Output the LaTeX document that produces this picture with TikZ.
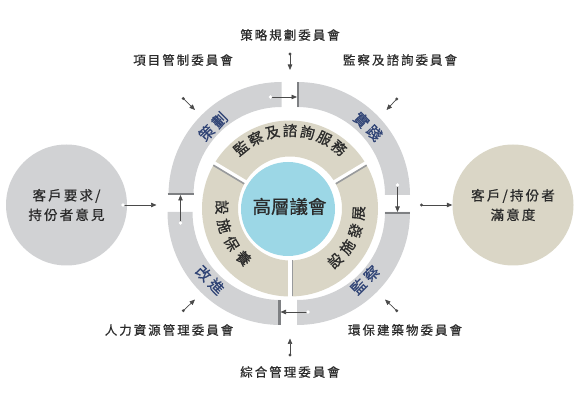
\documentclass[tikz,border=0pt]{standalone}
\usepackage{fontspec}
\newfontfamily\cjk[FakeBold=0.8]{Noto Sans CJK TC}
\newfontfamily\cjkwide[LetterSpace=16, FakeBold=0.6]{Noto Sans CJK TC}
\newfontfamily\cjkring[LetterSpace=22, FakeBold=0.6]{Noto Sans CJK TC}
\usetikzlibrary{arrows.meta}
\definecolor{RingGray}{HTML}{D1D2D4}
\definecolor{EdgeGray}{HTML}{7E8083}
\definecolor{Sand}{HTML}{DAD6C6}
\definecolor{SkyBlue}{HTML}{9CD7E6}
\definecolor{Navy}{HTML}{2E4274}
\definecolor{InkGray}{HTML}{2A2A2A}
\definecolor{ArrowGray}{HTML}{4A4A4A}

\begin{document}
\begin{tikzpicture}[x=1pt, y=1pt,
    committee/.style={font=\cjkwide\fontsize{12.5}{15}\selectfont, text=InkGray},
    phase/.style={font=\cjkring\fontsize{15}{18}\selectfont, text=Navy, inner sep=0pt},
    service/.style={font=\cjk\fontsize{14.5}{17}\selectfont, text=InkGray, inner sep=0pt},
    party/.style={circle, minimum size=121, inner sep=0pt, align=center,
        font=\cjkwide\fontsize{13.5}{19.5}\selectfont, text=InkGray},
    feed/.style={ArrowGray, line width=0.7pt, -{Triangle[length=5.5pt, width=4.5pt]}},
    edge/.style={EdgeGray, line width=2.2pt},
    divider/.style={EdgeGray!80, line width=1.6pt}]
    \useasboundingbox (0,0) rectangle (581,409);

    % Outer ring: four quarter pieces, pulled apart
    \fill[RingGray] (281.5,327) arc[start angle=90, end angle=180, radius=113]
        -- (193.5,214) arc[start angle=180, end angle=90, radius=88] -- cycle;
    \fill[RingGray] (410,214) arc[start angle=0, end angle=90, radius=113]
        -- (297,302) arc[start angle=90, end angle=0, radius=88] -- cycle;
    \fill[RingGray] (297,84) arc[start angle=270, end angle=360, radius=113]
        -- (385,197) arc[start angle=360, end angle=270, radius=88] -- cycle;
    \fill[RingGray] (167.5,197) arc[start angle=180, end angle=270, radius=113]
        -- (280.5,109) arc[start angle=270, end angle=180, radius=88] -- cycle;

    % Dark edge where each flow arrow lands
    \draw[edge] (298.1,302) -- (298.1,327);
    \draw[edge] (385,195.9) -- (410,195.9);
    \draw[edge] (279.4,84) -- (279.4,109);
    \draw[edge] (167.5,215.1) -- (193.5,215.1);

    % Flow round the ring
    \coordinate (plan-out) at (270.5,312);
    \coordinate (act-in) at (297,312);
    \coordinate (act-out) at (397.5,224);
    \coordinate (check-in) at (397.5,197);
    \coordinate (check-out) at (308,97);
    \coordinate (improve-in) at (280.5,97);
    \coordinate (improve-out) at (180.5,186);
    \coordinate (plan-in) at (180.5,214);
    \draw[feed] (plan-out) -- (act-in);
    \draw[feed] (act-out) -- (check-in);
    \draw[feed] (check-out) -- (improve-in);
    \draw[feed] (improve-out) -- (plan-in);
    \fill[white] (plan-out) circle (1.8) (act-out) circle (1.8)
        (check-out) circle (1.8) (improve-out) circle (1.8);

    % Ring labels
    \node[phase, rotate=45] (plan) at (213,282.5) {策劃};
    \node[phase, rotate=-45] (act) at (368,282.5) {實踐};
    \node[phase, rotate=45] (check) at (365,129) {監察};
    \node[phase, rotate=-45] (improve) at (210,129) {改進};

    % Middle ring of services
    \begin{scope}[shift={(290,200.5)}]
        \fill[Sand, even odd rule] (0,0) circle (88) (0,0) circle (52);
        \draw[white, line width=3.5pt] (149:50) -- (149:90);
        \draw[divider] ([shift={(239:2.4)}]149:52) -- ([shift={(239:2.4)}]149:88);
        \draw[white, line width=3.5pt] (31:50) -- (31:90);
        \draw[divider] ([shift={(-59:2.4)}]31:52) -- ([shift={(-59:2.4)}]31:88);
        \draw[white, line width=3.5pt] (270:50) -- (270:90);
        \draw[divider] ([shift={(0:2.4)}]270:52) -- ([shift={(0:2.4)}]270:88);

        % top: read clockwise
        \node[service, rotate=39] (svc-1) at (129:78) {監};
        \node[service, rotate=26] (svc-2) at (116:78) {察};
        \node[service, rotate=13] (svc-3) at (103:78) {及};
        \node[service, rotate=0] (svc-4) at (90:78) {諮};
        \node[service, rotate=-13] (svc-5) at (77:78) {詢};
        \node[service, rotate=-26] (svc-6) at (64:78) {服};
        \node[service, rotate=-39] (svc-7) at (51:78) {務};
        % lower left: read anticlockwise
        \node[service, rotate=269] (keep-1) at (179:68) {設};
        \node[service, rotate=285] (keep-2) at (195:68) {施};
        \node[service, rotate=301] (keep-3) at (211:68) {保};
        \node[service, rotate=317] (keep-4) at (227:68) {養};
        % lower right: read anticlockwise
        \node[service, rotate=41] (grow-1) at (-49:69) {設};
        \node[service, rotate=56] (grow-2) at (-34:69) {施};
        \node[service, rotate=71] (grow-3) at (-19:69) {發};
        \node[service, rotate=86] (grow-4) at (-4:69) {展};
    \end{scope}

    % Core
    \fill[SkyBlue] (288,200) circle (47);
    \node[font=\cjk\fontsize{18.5}{20}\selectfont, text=InkGray] (council) at (289.5,202.5) {高層議會};

    % Committees round the ring
    \node[committee] (strategy) at (290,374) {策略規劃委員會};
    \node[committee] (project) at (183,349) {項目管制委員會};
    \node[committee] (monitor) at (400,349) {監察及諮詢委員會};
    \node[committee] (people) at (169,79) {人力資源管理委員會};
    \node[committee] (green) at (405,79) {環保建築物委員會};
    \node[committee] (admin) at (290,37) {綜合管理委員會};
    \coordinate (strategy-dot) at (290,355);
    \coordinate (strategy-tip) at (290,339);
    \coordinate (project-dot) at (183.3,310.5);
    \coordinate (project-tip) at (195,299);
    \coordinate (monitor-dot) at (396.7,310);
    \coordinate (monitor-tip) at (386.5,299);
    \coordinate (people-dot) at (183.3,98.3);
    \coordinate (people-tip) at (195,109.5);
    \coordinate (green-dot) at (396.7,98.3);
    \coordinate (green-tip) at (385,109.5);
    \coordinate (admin-dot) at (290,54);
    \coordinate (admin-tip) at (290,70.5);
    \draw[feed] (strategy-dot) -- (strategy-tip);
    \draw[feed] (project-dot) -- (project-tip);
    \draw[feed] (monitor-dot) -- (monitor-tip);
    \draw[feed] (people-dot) -- (people-tip);
    \draw[feed] (green-dot) -- (green-tip);
    \draw[feed] (admin-dot) -- (admin-tip);
    \fill[ArrowGray] (strategy-dot) circle (1.6) (project-dot) circle (1.6)
        (monitor-dot) circle (1.6) (people-dot) circle (1.6)
        (green-dot) circle (1.6) (admin-dot) circle (1.6);

    % Input and outcome
    \node[party, fill=RingGray] (request) at (66.5,204) {客戶要求/\\持份者意見};
    \node[party, fill=Sand] (satisfy) at (513,204) {客戶/持份者\\滿意度};
    \coordinate (request-dot) at (123,204);
    \coordinate (ring-in) at (156.5,204);
    \coordinate (ring-out) at (421.5,204);
    \draw[feed] (request-dot) -- (ring-in);
    \draw[feed] (ring-out) -- (satisfy.west);
    \fill[white] (request-dot) circle (1.8);
    \fill[ArrowGray] (ring-out) circle (1.6);
\end{tikzpicture}
\end{document}
